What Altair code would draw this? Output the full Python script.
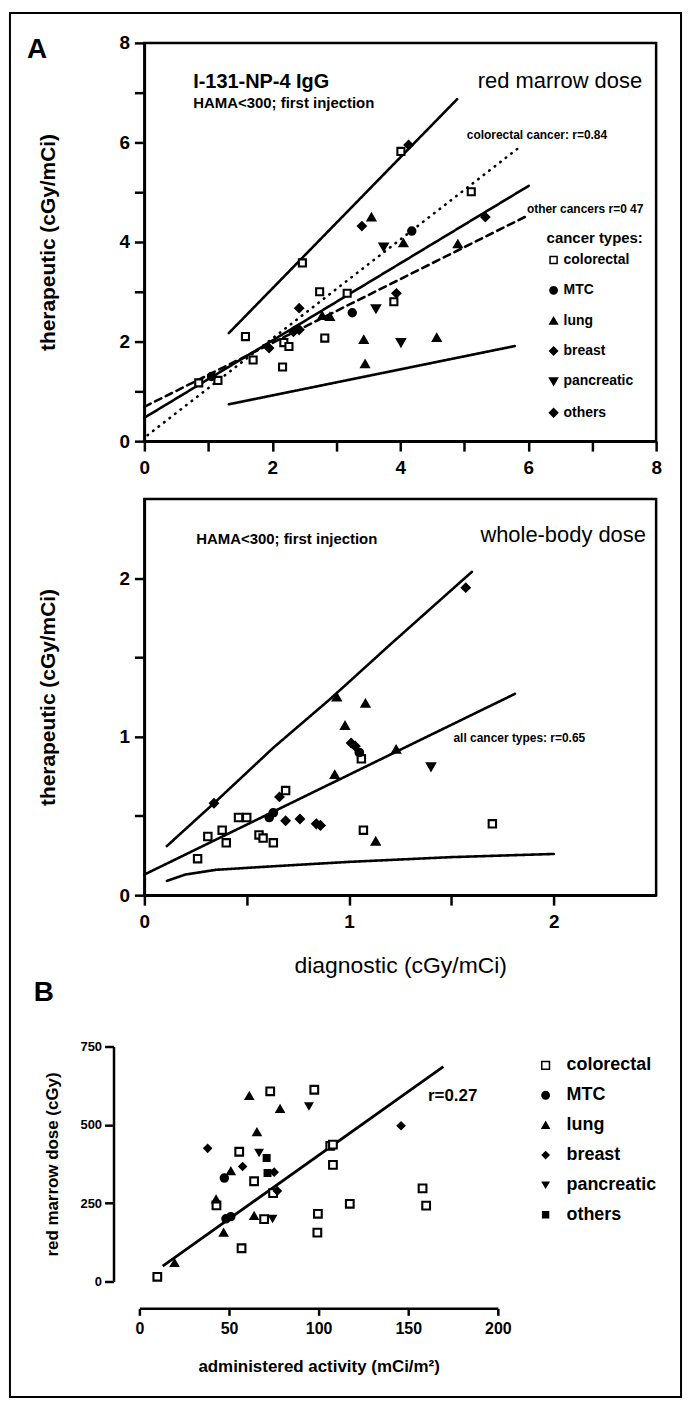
import altair as alt
import pandas as pd

FONT = "Liberation Sans"
TYPES = ["colorectal", "MTC", "lung", "breast", "pancreatic", "others"]

# ---------------- Panel A (top): red marrow dose ----------------
rm_type = (["colorectal"] * 14 + ["MTC"] * 3 + ["lung"] * 8 + ["breast"] * 6
           + ["pancreatic"] * 3 + ["others"] * 2)
rm_diag = [0.85, 1.15, 1.58, 1.70, 2.16, 2.18, 2.26, 2.47, 2.74, 2.82, 3.17, 3.90, 4.01, 5.11,
           1.05, 3.25, 4.18,
           2.78, 2.90, 3.43, 3.45, 4.57, 4.05, 4.90, 3.55,
           1.95, 2.42, 3.94, 3.40, 4.13, 5.33,
           3.62, 4.01, 3.74,
           2.33, 2.42]
rm_ther = [1.17, 1.22, 2.10, 1.63, 1.49, 1.98, 1.90, 3.58, 3.00, 2.07, 2.97, 2.80, 5.82, 5.01,
           1.30, 2.58, 4.22,
           2.52, 2.50, 2.04, 1.55, 2.08, 3.98, 3.96, 4.50,
           1.87, 2.67, 2.97, 4.32, 5.95, 4.50,
           2.66, 1.98, 3.90,
           2.20, 2.24]
rm_line_name = ["upper", "fit", "lower", "colorectal", "other"]
rm_line_style = ["solid", "solid", "solid", "dotted", "dashed"]
rm_line_x = [[1.32, 4.89], [0.0, 6.01], [1.32, 5.79], [0.05, 5.89], [0.0, 5.99]]
rm_line_y = [[2.17, 6.87], [0.47, 5.13], [0.74, 1.91], [0.12, 5.93], [0.69, 4.53]]

# ---------------- Panel A (middle): whole-body dose ----------------
wb_type = (["colorectal"] * 13 + ["MTC"] * 3 + ["lung"] * 6 + ["breast"] * 6
           + ["pancreatic"] * 1 + ["others"] * 3)
wb_diag = [0.26, 0.31, 0.38, 0.40, 0.46, 0.50, 0.56, 0.58, 0.63, 0.69, 1.06, 1.07, 1.70,
           0.61, 0.63, 1.05,
           0.93, 0.94, 0.98, 1.08, 1.23, 1.13,
           0.34, 0.66, 0.69, 0.76, 1.01, 1.57,
           1.40,
           0.84, 0.86, 1.03]
wb_ther = [0.23, 0.37, 0.41, 0.33, 0.49, 0.49, 0.38, 0.36, 0.33, 0.66, 0.86, 0.41, 0.45,
           0.49, 0.52, 0.90,
           0.76, 1.25, 1.07, 1.21, 0.92, 0.34,
           0.58, 0.62, 0.47, 0.48, 0.96, 1.94,
           0.81,
           0.45, 0.44, 0.94]
wb_line_name = ["fit", "upper", "lower"]
wb_line_style = ["solid", "solid", "solid"]
wb_line_x = [[0.0, 1.81],
             [0.11, 0.34, 0.63, 0.91, 1.20, 1.60],
             [0.11, 0.20, 0.35, 0.60, 1.00, 1.50, 2.00]]
wb_line_y = [[0.13, 1.27],
             [0.31, 0.58, 0.93, 1.24, 1.58, 2.04],
             [0.09, 0.13, 0.16, 0.18, 0.21, 0.24, 0.26]]

# ---------------- Panel B: red marrow dose vs administered activity ----------------
b_type = (["colorectal"] * 17 + ["MTC"] * 3 + ["lung"] * 8 + ["breast"] * 5
          + ["pancreatic"] * 3 + ["others"] * 2)
b_activity = [10, 43, 57, 55.7, 64, 73, 74.6, 69.6, 97.6, 99.6, 99.3, 106.5, 108, 108, 117.4, 158, 160,
              48.3, 51, 47.4,
              19.6, 42.8, 47, 51, 61.3, 65.6, 78.5, 64,
              38.1, 57.6, 75.2, 77, 146,
              66.8, 94.6, 74.3,
              71, 71.5]
b_dose = [15, 243, 106, 414, 320, 607, 282, 199, 612, 216, 156, 433, 437, 372, 248, 297, 242,
          200, 207, 330,
          59, 262, 156, 352, 592, 477, 551, 209,
          425, 367, 349, 289, 497,
          412, 560, 201,
          394, 346]
b_line_x = [13, 169.6]
b_line_y = [49, 686]


def points_df(types, xs, ys):
    return pd.DataFrame({"type": types, "x": xs, "y": ys})


def lines_df(names, styles, xs, ys):
    rows = []
    for n, s, lx, ly in zip(names, styles, xs, ys):
        for a, b in zip(lx, ly):
            rows.append({"line": n, "style": s, "x": a, "y": b})
    return pd.DataFrame(rows)


def axis(values, expr, title, **kw):
    base = dict(values=values, title=title, grid=False, tickColor="black",
                domainColor="black", labelFont=FONT, labelColor="black",
                labelFontWeight="bold", labelFlush=False, labelOverlap=False,
                titleFont=FONT, titleColor="black")
    if expr:
        base["labelExpr"] = expr
    base.update(kw)
    return alt.Axis(**base)


def point_layer(df, X, Y, sizes, shapes, fills, legend):
    return alt.Chart(df).mark_point(filled=True, strokeWidth=2.1, opacity=1).encode(
        x=X, y=Y,
        shape=alt.Shape("type:N", scale=alt.Scale(domain=TYPES, range=shapes), legend=legend),
        fill=alt.Fill("type:N", scale=alt.Scale(domain=TYPES, range=fills), legend=legend),
        stroke=alt.Stroke("type:N", scale=alt.Scale(domain=TYPES, range=["black"] * 6), legend=legend),
        size=alt.Size("type:N", scale=alt.Scale(domain=TYPES, range=sizes), legend=legend),
    )


def line_layer(df, X, Y):
    return alt.Chart(df).mark_line(color="black", strokeWidth=2.6, strokeCap="round").encode(
        x=X, y=Y, detail="line:N", order="x:Q",
        strokeDash=alt.StrokeDash("style:N", scale=alt.Scale(domain=["solid", "dotted", "dashed"],
                                                              range=[[1, 0], [0.5, 6.5], [7, 5]]),
                                  legend=None),
    )


def text_layer(X, Y, xv, yv, txt, **kw):
    df = pd.DataFrame({"x": [xv], "y": [yv], "t": [txt]})
    return alt.Chart(df).mark_text(font=FONT, color="black", baseline="middle", **kw).encode(
        x=X, y=Y, text="t:N")


def pixel_text(txt, px, py, **kw):
    df = pd.DataFrame({"t": [txt]})
    return alt.Chart(df).mark_text(font=FONT, color="black", baseline="middle", align="left", **kw).encode(
        x=alt.value(px), y=alt.value(py), text="t:N")


fills = ["white", "black", "black", "black", "black", "black"]
EVEN = "datum.value % 2 === 0 ? '' + datum.value : ''"
WHOLE = "datum.value % 1 === 0 ? '' + datum.value : ''"

# ---------- top chart ----------
xs1 = alt.Scale(domain=[0, 8], nice=False, zero=False)
ys1 = alt.Scale(domain=[0, 8], nice=False, zero=False)
X1 = alt.X("x:Q", scale=xs1, axis=axis(list(range(9)), EVEN, None,
                                       tickSize=10, tickWidth=2.5, domainWidth=2.5,
                                       labelFontSize=19, labelPadding=7))
Y1 = alt.Y("y:Q", scale=ys1, axis=axis(list(range(9)), EVEN, "therapeutic (cGy/mCi)",
                                       tickSize=10, tickWidth=2.5, domainWidth=2.5,
                                       labelFontSize=19, labelPadding=5,
                                       titleFontSize=21, titleFontWeight="bold",
                                       titleX=-96, titleY=200, titleAngle=270, titleBaseline="middle"))
leg1 = alt.Legend(title="cancer types:", orient="none", legendX=404, legendY=189,
                  titleFont=FONT, titleFontSize=15, titleFontWeight="bold", titleColor="black",
                  titlePadding=7, labelFont=FONT, labelFontSize=14, labelFontWeight="bold",
                  labelColor="black", labelOffset=3, rowPadding=16.5, padding=0)

frame = alt.Chart(pd.DataFrame({"a": [0]})).mark_rect(fill="transparent", stroke="black", strokeWidth=2).encode(
    x=alt.value(-135), x2=alt.value(539), y=alt.value(-30), y2=alt.value(1360))

top = alt.layer(
    frame,
    line_layer(lines_df(rm_line_name, rm_line_style, rm_line_x, rm_line_y), X1, Y1),
    point_layer(points_df(rm_type, rm_diag, rm_ther), X1, Y1,
                [50, 70, 70, 85, 70, 60],
                ["square", "circle", "triangle-up", "diamond", "triangle-down", "diamond"], fills, leg1),
    text_layer(X1, Y1, 0.763, 7.21, "I-131-NP-4 IgG", align="left", fontSize=20, fontWeight="bold"),
    text_layer(X1, Y1, 0.763, 6.80, "HAMA<300; first injection", align="left", fontSize=15, fontWeight="bold"),
    text_layer(X1, Y1, 7.78, 7.24, "red marrow dose", align="right", fontSize=22),
    text_layer(X1, Y1, 5.04, 6.14, "colorectal cancer: r=0.84", align="left", fontSize=12, fontWeight="bold"),
    text_layer(X1, Y1, 5.98, 4.66, "other cancers  r=0 47", align="left", fontSize=12, fontWeight="bold"),
    pixel_text("A", -118, 7, fontSize=28, fontWeight="bold"),
).properties(width=514, height=400, view=alt.ViewBackground(stroke="black", strokeWidth=2.5))

# ---------- middle chart ----------
xs2 = alt.Scale(domain=[0, 2.5], nice=False, zero=False)
ys2 = alt.Scale(domain=[0, 2.5], nice=False, zero=False)
half = [0, 0.5, 1, 1.5, 2]
X2 = alt.X("x:Q", scale=xs2, axis=axis(half, WHOLE, "diagnostic (cGy/mCi)",
                                       tickSize=10, tickWidth=2.5, domainWidth=2.5,
                                       labelFontSize=19, labelPadding=7,
                                       titleFontSize=23, titleFontWeight="normal",
                                       titleX=257, titleY=71, titleBaseline="middle"))
Y2 = alt.Y("y:Q", scale=ys2, axis=axis(half, WHOLE, "therapeutic (cGy/mCi)",
                                       tickSize=10, tickWidth=2.5, domainWidth=2.5,
                                       labelFontSize=19, labelPadding=5,
                                       titleFontSize=21, titleFontWeight="bold",
                                       titleX=-96, titleY=199, titleAngle=270, titleBaseline="middle"))
mid = alt.layer(
    line_layer(lines_df(wb_line_name, wb_line_style, wb_line_x, wb_line_y), X2, Y2),
    point_layer(points_df(wb_type, wb_diag, wb_ther), X2, Y2,
                [55, 70, 75, 90, 75, 70],
                ["square", "circle", "triangle-up", "diamond", "triangle-down", "diamond"], fills, None),
    text_layer(X2, Y2, 0.253, 2.245, "HAMA<300; first injection", align="left", fontSize=15, fontWeight="bold"),
    text_layer(X2, Y2, 2.45, 2.27, "whole-body dose", align="right", fontSize=22),
    text_layer(X2, Y2, 1.51, 0.99, "all cancer types: r=0.65", align="left", fontSize=12, fontWeight="bold"),
).properties(width=514, height=398, view=alt.ViewBackground(stroke="black", strokeWidth=2.5))

# ---------- panel B ----------
# the cell starts 58 px below the middle panel; the plot itself occupies its lower 236 px
xs3 = alt.Scale(domain=[0, 200], range=[-5, 355], nice=False, zero=False)
ys3 = alt.Scale(domain=[0, 750], range=[330, 94], nice=False, zero=False)
X3 = alt.X("x:Q", scale=xs3, axis=axis([0, 50, 100, 150, 200], None, "administered activity (mCi/m²)",
                                       offset=27, tickSize=7, tickWidth=2.5, domainWidth=2.5,
                                       labelFontSize=16, labelPadding=5,
                                       titleFontSize=17, titleFontWeight="bold",
                                       titleX=175, titleY=58, titleBaseline="middle"))
Y3 = alt.Y("y:Q", scale=ys3, axis=axis([0, 250, 500, 750], None, "red marrow dose (cGy)",
                                       offset=31, tickSize=9, tickWidth=2.5, domainWidth=2.5,
                                       labelFontSize=13, labelPadding=3,
                                       titleFontSize=17, titleFontWeight="bold",
                                       titleX=-61, titleY=212, titleAngle=270, titleBaseline="middle"))
leg3 = alt.Legend(title=None, orient="none", legendX=394, legendY=104,
                  labelFont=FONT, labelFontSize=18, labelFontWeight="bold", labelColor="black",
                  labelOffset=12, rowPadding=12, padding=0)
bchart = alt.layer(
    alt.Chart(pd.DataFrame({"x": b_line_x, "y": b_line_y})).mark_line(color="black", strokeWidth=2.8).encode(
        x=X3, y=Y3),
    point_layer(points_df(b_type, b_activity, b_dose), X3, Y3,
                [60, 35, 40, 30, 35, 16],
                ["square", "circle", "triangle-up", "diamond", "triangle-down", "square"], fills, leg3),
    text_layer(X3, Y3, 161, 591, "r=0.27", align="left", fontSize=17, fontWeight="bold"),
    pixel_text("B", -111, 40, fontSize=28, fontWeight="bold"),
).properties(width=360, height=330, view=alt.ViewBackground(stroke="transparent", strokeWidth=0))

chart = alt.vconcat(top, mid, bchart, spacing=58, bounds="flush").resolve_scale(
    x="independent", y="independent", shape="independent", fill="independent", stroke="independent",
    size="independent", strokeDash="independent").resolve_legend(
    shape="independent", fill="independent", stroke="independent", size="independent").properties(
    padding={"left": 7, "top": 7, "right": 4, "bottom": 4},
    background="white",
).configure(font=FONT)

chart.save("out.html", embed_options={"renderer": "svg", "actions": False})
